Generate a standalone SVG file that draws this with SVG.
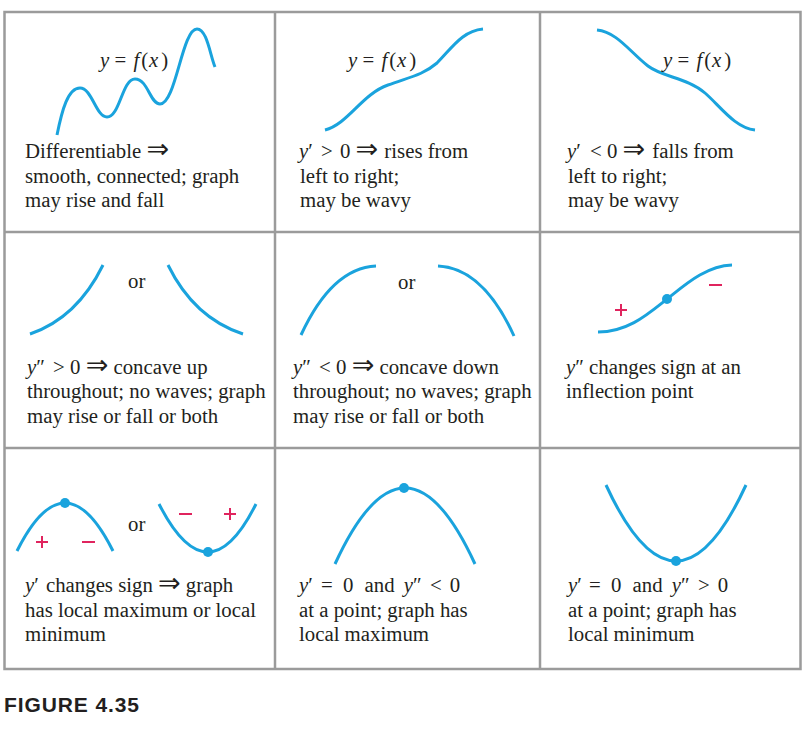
<svg xmlns="http://www.w3.org/2000/svg" width="811" height="731" viewBox="0 0 811 731">
<style>
.grid{fill:none;stroke:#9b9b9b;stroke-width:2.5}
.c{fill:none;stroke:#1aa3dd;stroke-width:3;stroke-linecap:butt}
.dot{fill:#1aa3dd}
.sg{fill:none;stroke:#e0245e;stroke-width:2}
text{font-family:"Liberation Serif","Times New Roman",serif;font-size:20.8px;fill:#231f20}
.i{font-style:italic}
.ar{font-family:"DejaVu Sans",sans-serif;font-size:27px}
.cap{font-family:"Liberation Sans",Arial,sans-serif;font-weight:bold;font-size:21px;letter-spacing:0.9px}
</style>
<rect width="811" height="731" fill="#fff"/>
<g id="grid">
<rect class="grid" x="4.5" y="12" width="796" height="657"/>
<line class="grid" x1="275" y1="12" x2="275" y2="669"/>
<line class="grid" x1="540" y1="12" x2="540" y2="669"/>
<line class="grid" x1="4.5" y1="232" x2="800.5" y2="232"/>
<line class="grid" x1="4.5" y1="448" x2="800.5" y2="448"/>
</g>
<g id="cell1">
<path class="c" d="M57,135 C62,110 68,88 80,88 C92,88 96,117 107,117 C120,117 122,79 135,79 C148,79 150,104 160,104 C176,104 182,29 197,29 C207,29 210,55 215,67"/>
<text x="100" y="67"><tspan class="i">y</tspan> = <tspan class="i" dx="2">f</tspan><tspan dx="2">(</tspan><tspan class="i" dx="1">x</tspan><tspan dx="3">)</tspan></text>
<text x="25" y="158">Differentiable <tspan class="ar">⇒</tspan></text>
<text x="25" y="182.5">smooth, connected; graph</text>
<text x="25" y="207">may rise and fall</text>
</g>
<g id="cell2">
<path class="c" d="M325,130 C348,124 362,94 388,85 C410,77 423,75 437,63 C452,48 462,31 483,29"/>
<text x="348" y="67"><tspan class="i">y</tspan> = <tspan class="i" dx="2">f</tspan><tspan dx="2">(</tspan><tspan class="i" dx="1">x</tspan><tspan dx="3">)</tspan></text>
<text x="299" y="158"><tspan class="i">y</tspan>′ <tspan dx="3">&gt;</tspan> <tspan dx="2">0</tspan> <tspan class="ar">⇒</tspan> <tspan dx="1">rises from</tspan></text>
<text x="300" y="182.5">left to right;</text>
<text x="300" y="207">may be wavy</text>
</g>
<g id="cell3">
<path class="c" d="M597,30 C617,32 630,52 648,66 C662,77 688,78 705,93 C720,106 735,128 755,130"/>
<text x="663" y="67"><tspan class="i">y</tspan> = <tspan class="i" dx="2">f</tspan><tspan dx="2">(</tspan><tspan class="i" dx="1">x</tspan><tspan dx="3">)</tspan></text>
<text x="567" y="158"><tspan class="i">y</tspan>′ <tspan dx="4">&lt;</tspan> 0 <tspan class="ar">⇒</tspan> <tspan dx="2">falls from</tspan></text>
<text x="568" y="182.5">left to right;</text>
<text x="568" y="207">may be wavy</text>
</g>
<g id="cell4">
<path class="c" d="M30,334 Q77,318 103,265"/>
<path class="c" d="M168,265 Q194,318 243,334"/>
<text x="128" y="288">or</text>
<text x="27" y="374"><tspan class="i">y</tspan>″ <tspan dx="3">&gt;</tspan> 0 <tspan class="ar">⇒</tspan> concave up</text>
<text x="27" y="398">throughout; no waves; graph</text>
<text x="27" y="422.5">may rise or fall or both</text>
</g>
<g id="cell5">
<path class="c" d="M301,335 Q332,268 376,266"/>
<path class="c" d="M438,266 Q483,268 514,336"/>
<text x="398" y="289">or</text>
<text x="293" y="374"><tspan class="i">y</tspan>″ <tspan dx="3">&lt;</tspan> 0 <tspan class="ar">⇒</tspan> concave down</text>
<text x="293" y="398">throughout; no waves; graph</text>
<text x="293" y="422.5">may rise or fall or both</text>
</g>
<g id="cell6">
<path class="c" d="M598,332 C628,332 648,314 667,299 C686,284 706,266 732,265"/>
<circle class="dot" cx="667" cy="299" r="5"/>
<path class="sg" d="M615,310 H627 M621,304 V316"/>
<path class="sg" d="M709,285 H722"/>
<text x="566" y="374"><tspan class="i">y</tspan>″ changes sign at an</text>
<text x="566" y="398">inflection point</text>
</g>
<g id="cell7">
<path class="c" d="M17,551 Q65,455 113,551"/>
<circle class="dot" cx="65" cy="503" r="5"/>
<path class="sg" d="M36,542 H48 M42,536 V548"/>
<path class="sg" d="M82,542 H95"/>
<text x="128" y="531">or</text>
<path class="c" d="M159,504 Q208,600 256,504"/>
<circle class="dot" cx="208" cy="552" r="5"/>
<path class="sg" d="M179,514 H192"/>
<path class="sg" d="M224,514 H236 M230,508 V520"/>
<text x="25" y="592"><tspan class="i">y</tspan>′ <tspan dx="2">changes sign</tspan> <tspan class="ar">⇒</tspan> graph</text>
<text x="25" y="616.5">has local maximum or local</text>
<text x="25" y="641">minimum</text>
</g>
<g id="cell8">
<path class="c" d="M335,564 Q405,412 475,564"/>
<circle class="dot" cx="404" cy="488" r="5"/>
<text x="299" y="592"><tspan class="i">y</tspan>′ <tspan dx="3">=</tspan> <tspan dx="5">0</tspan> <tspan dx="6">and</tspan> <tspan class="i" dx="4">y</tspan>″ <tspan dx="3">&lt;</tspan> <tspan dx="3">0</tspan></text>
<text x="299" y="616.5">at a point; graph has</text>
<text x="299" y="641">local maximum</text>
</g>
<g id="cell9">
<path class="c" d="M606,485 Q676,637 746,485"/>
<circle class="dot" cx="676" cy="561" r="5"/>
<text x="568" y="592"><tspan class="i">y</tspan>′ <tspan dx="2">=</tspan> <tspan dx="5">0</tspan> <tspan dx="6">and</tspan> <tspan class="i" dx="4">y</tspan>″ <tspan dx="3">&gt;</tspan> <tspan dx="3">0</tspan></text>
<text x="568" y="616.5">at a point; graph has</text>
<text x="568" y="641">local minimum</text>
</g>
<text class="cap" x="4" y="712">FIGURE 4.35</text>
</svg>
